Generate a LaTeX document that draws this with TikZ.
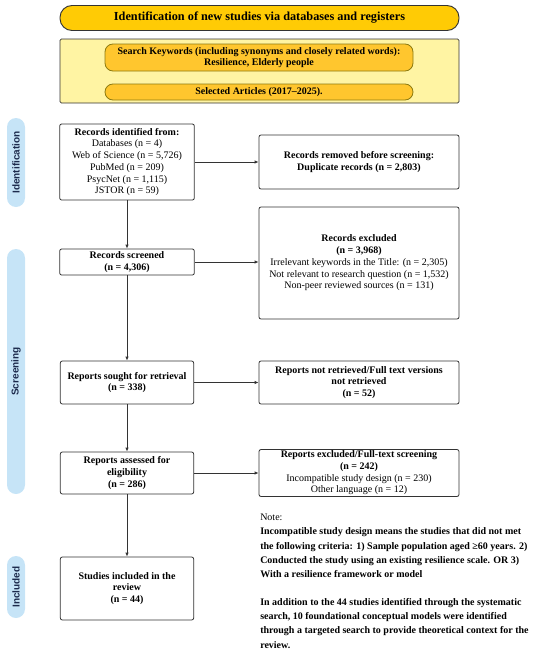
\documentclass[tikz,border=0pt]{standalone}
\usepackage{fontspec}
\setmainfont{Liberation Serif}
\setsansfont{Liberation Sans}
\usetikzlibrary{arrows.meta}
\definecolor{gold}{HTML}{FFCB05}
\definecolor{pillgold}{HTML}{FFC62E}
\definecolor{pillline}{HTML}{8C7A10}
\definecolor{paleyellow}{HTML}{FFF4A3}
\definecolor{boxline}{HTML}{333333}
\definecolor{barblue}{HTML}{C6E4F7}
\definecolor{bartext}{HTML}{1C2A4C}

\begin{document}
\begin{tikzpicture}[x=0.75pt,y=0.75pt,yscale=-1,xscale=1,
    box/.style={draw=boxline, line width=0.6pt, rounded corners=1.5pt, fill=white, align=center, inner sep=1pt, font=\fontsize{7.5}{8.8}\selectfont},
    pill/.style={draw=pillline, line width=0.6pt, fill=pillgold, rounded corners=6pt, align=center, inner sep=0pt, minimum width=231pt, font=\bfseries\fontsize{7.5}{8.8}\selectfont},
    sidebar/.style={fill=barblue, rounded corners=6.75pt, rotate=90, minimum height=13.5pt, inner sep=0pt, text=bartext, font=\sffamily\bfseries\fontsize{7.5}{9}\selectfont},
    arrow/.style={draw=boxline, line width=0.6pt, -{Latex[length=3pt,width=2.6pt]}}]
\useasboundingbox (0,0) rectangle (550,653);

\node [draw=boxline, line width=0.7pt, fill=gold, rounded corners=9pt, minimum width=299.25pt, minimum height=18.75pt, inner sep=0pt, font=\bfseries\fontsize{9.2}{11}\selectfont] (title) at (259.5,18) {Identification of new studies via databases and registers};
\node [draw=boxline, line width=0.6pt, fill=paleyellow, rounded corners=1pt, minimum width=299.25pt, minimum height=48pt, inner sep=0pt] (search) at (259.5,71) {};
\node [pill, minimum height=20.25pt] (keywords) at (259,57.5) {Search Keywords (including synonyms and closely related words):\\Resilience, Elderly people};
\node [pill, minimum height=12pt] (selected) at (259,92) {Selected Articles (2017--2025).};

\node [sidebar, minimum width=66.75pt] (idbar) at (16,162.5) {Identification};
\node [sidebar, minimum width=183.75pt] (screenbar) at (16,371.5) {Screening};
\node [sidebar, minimum width=46.5pt] (inclbar) at (16,587) {Included};

\node [box, minimum width=101pt, minimum height=57pt] (identified) at (127,162) {\textbf{Records identified from:}\\Databases (n = 4)\\Web of Science (n = 5,726)\\PubMed (n = 209)\\PsycNet (n = 1,115)\\JSTOR (n = 59)};
\node [box, minimum width=150pt, minimum height=40.5pt, font=\bfseries\fontsize{7.5}{8.8}\selectfont] (removed) at (359,162) {Records removed before screening:\\Duplicate records (n = 2,803)};
\node [box, minimum width=101pt, minimum height=19.5pt, font=\bfseries\fontsize{7.5}{8.8}\selectfont] (screened) at (127,262) {Records screened\\(n = 4,306)};
\node [box, minimum width=150pt, minimum height=84pt] (excluded) at (359,263) {\textbf{Records excluded}\\\textbf{(n = 3,968)}\\Irrelevant keywords in the Title: (n = 2,305)\\Not relevant to research question (n = 1,532)\\Non-peer reviewed sources (n = 131)};
\node [box, minimum width=100pt, minimum height=32.25pt, font=\bfseries\fontsize{7.5}{8.8}\selectfont] (sought) at (127,382.5) {Reports sought for retrieval\\(n = 338)};
\node [box, minimum width=150pt, minimum height=32.25pt, font=\bfseries\fontsize{7.5}{8.8}\selectfont] (notretrieved) at (359,382.5) {Reports not retrieved/Full text versions\\not retrieved\\(n = 52)};
\node [box, minimum width=100pt, minimum height=31.5pt, font=\bfseries\fontsize{7.5}{8.8}\selectfont] (assessed) at (127,473) {Reports assessed for\\eligibility\\(n = 286)};
\node [box, minimum width=150pt, minimum height=34.5pt] (fulltext) at (359,473) {\textbf{Reports excluded/Full-text screening}\\\textbf{(n = 242)}\\Incompatible study design (n = 230)\\Other language (n = 12)};
\node [box, minimum width=100pt, minimum height=47.25pt, font=\bfseries\fontsize{7.5}{8.8}\selectfont] (included) at (127,588.5) {Studies included in the\\review\\(n = 44)};

\node [anchor=north west, inner sep=0pt, align=left, font=\fontsize{7.5}{10.6}\selectfont] (note) at (260,514) {Note:\\\textbf{Incompatible study design means the studies that did not met}\\\textbf{the following criteria: 1) Sample population aged ≥60 years. 2)}\\\textbf{Conducted the study using an existing resilience scale. OR 3)}\\\textbf{With a resilience framework or model}\\[10.6pt]\textbf{In addition to the 44 studies identified through the systematic}\\\textbf{search, 10 foundational conceptual models were identified}\\\textbf{through a targeted search to provide theoretical context for the}\\\textbf{review.}};

\draw [arrow] (identified) -- (screened);
\draw [arrow] (screened) -- (sought);
\draw [arrow] (sought) -- (assessed);
\draw [arrow] (assessed) -- (included);
\draw [arrow] (identified) -- (removed);
\draw [arrow] (screened) -- (screened -| excluded.west);
\draw [arrow] (sought) -- (notretrieved);
\draw [arrow] (assessed) -- (fulltext);
\end{tikzpicture}
\end{document}
